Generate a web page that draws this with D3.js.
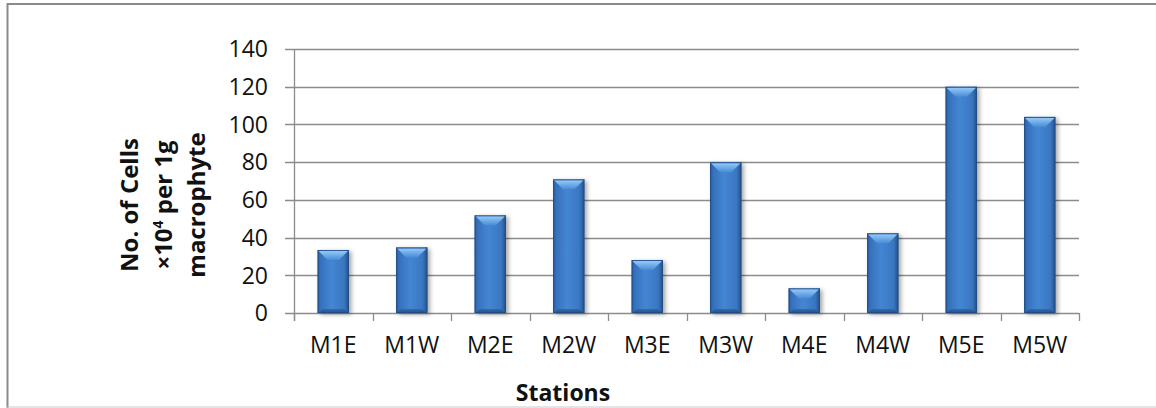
<!DOCTYPE html>
<html>
<head>
<meta charset="utf-8">
<script src="https://cdn.jsdelivr.net/npm/d3@7"></script>
<style>
  html, body { margin: 0; padding: 0; background: #fff; }
  svg { display: block; }
  text { font-family: "Open Sans", "Noto Sans", sans-serif; fill: #111; }
</style>
</head>
<body>
<svg id="chart" width="1156" height="408"></svg>
<script>
// Station names along the x axis
const stations = ["M1E", "M1W", "M2E", "M2W", "M3E", "M3W", "M4E", "M4W", "M5E", "M5W"];
// Cell counts (×10^4 per 1 g macrophyte)
const cellCounts = [33.4, 34.8, 51.8, 70.9, 28.1, 80, 13.1, 42.3, 120, 104];
// Value axis ticks
const yTicks = [0, 20, 40, 60, 80, 100, 120, 140];

const svg = d3.select("#chart");
const W = 1156, H = 408;
const plot = { left: 294, right: 1079, top: 49, bottom: 313 };

// Outer chart frame
svg.append("line").attr("x1", 7).attr("x2", W).attr("y1", 4).attr("y2", 4)
  .attr("stroke", "#8a8a8a").attr("stroke-width", 2);
svg.append("line").attr("x1", 7.5).attr("x2", 7.5).attr("y1", 3).attr("y2", H)
  .attr("stroke", "#8a8a8a").attr("stroke-width", 2);
svg.append("line").attr("x1", 7).attr("x2", W).attr("y1", 407).attr("y2", 407)
  .attr("stroke", "#c9c9c9").attr("stroke-width", 1);

const x = d3.scaleBand().domain(stations).range([plot.left, plot.right]).paddingInner(0.6).paddingOuter(0.3);
const xOuter = d3.scaleBand().domain(stations).range([plot.left, plot.right]);
const y = d3.scaleLinear().domain([0, 140]).range([plot.bottom, plot.top]);

// Defs: gradients and shadow
const defs = svg.append("defs");
const body = defs.append("linearGradient").attr("id", "barBody").attr("x1", "0").attr("x2", "1").attr("y1", "0").attr("y2", "0");
[["0%", "#285a98"], ["10%", "#3671bd"], ["45%", "#4486d3"], ["85%", "#3a76c0"], ["100%", "#234f88"]]
  .forEach(([o, c]) => body.append("stop").attr("offset", o).attr("stop-color", c));
const topBevel = defs.append("linearGradient").attr("id", "topBevel").attr("x1", "0").attr("x2", "0").attr("y1", "0").attr("y2", "1");
[["0%", "#93caf8"], ["100%", "#4a8bd6"]]
  .forEach(([o, c]) => topBevel.append("stop").attr("offset", o).attr("stop-color", c));
const botBevel = defs.append("linearGradient").attr("id", "botBevel").attr("x1", "0").attr("x2", "0").attr("y1", "0").attr("y2", "1");
[["0%", "#2f65a8"], ["100%", "#1f4677"]]
  .forEach(([o, c]) => botBevel.append("stop").attr("offset", o).attr("stop-color", c));
const shadow = defs.append("filter").attr("id", "shadow").attr("x", "-30%").attr("y", "-10%").attr("width", "170%").attr("height", "130%");
shadow.append("feDropShadow").attr("dx", 2.5).attr("dy", 1.5).attr("stdDeviation", 2)
  .attr("flood-color", "#000").attr("flood-opacity", 0.35);

// Gridlines with left tick extensions
const grid = svg.append("g");
grid.selectAll("line").data(yTicks).join("line")
  .attr("x1", plot.left - 9).attr("x2", plot.right)
  .attr("y1", d => Math.round(y(d)) + 0.5).attr("y2", d => Math.round(y(d)) + 0.5)
  .attr("stroke", "#8c8c8c").attr("stroke-width", 1.3);

// Y axis line
svg.append("line").attr("x1", plot.left + 0.5).attr("x2", plot.left + 0.5)
  .attr("y1", plot.top).attr("y2", plot.bottom + 8)
  .attr("stroke", "#8c8c8c").attr("stroke-width", 1.3);

// X tick marks at category boundaries
const bounds = stations.map(s => xOuter(s)).concat([plot.right]);
svg.append("g").selectAll("line").data(bounds).join("line")
  .attr("x1", d => Math.round(d) + 0.5).attr("x2", d => Math.round(d) + 0.5)
  .attr("y1", plot.bottom).attr("y2", plot.bottom + 8)
  .attr("stroke", "#8c8c8c").attr("stroke-width", 1.3);

// Y tick labels
svg.append("g").selectAll("text").data(yTicks).join("text")
  .attr("x", 268).attr("y", d => y(d)).attr("dy", "0.36em")
  .attr("text-anchor", "end").attr("font-size", 23).text(d => d);

// X tick labels
svg.append("g").selectAll("text").data(stations).join("text")
  .attr("x", d => xOuter(d) + xOuter.bandwidth() / 2).attr("y", 353)
  .attr("text-anchor", "middle").attr("font-size", 23).text(d => d);

// Bars with bevel effect
const bars = svg.append("g").selectAll("g").data(stations.map((s, i) => ({ s, v: cellCounts[i] }))).join("g");
bars.each(function(d) {
  const g = d3.select(this);
  const x0 = x(d.s), w = x.bandwidth(), x1 = x0 + w;
  const yt = y(d.v), yb = y(0);
  const b = Math.min(10, (yb - yt) / 2);
  const bb = Math.min(4, (yb - yt) / 4);
  g.append("rect").attr("x", x0).attr("y", yt).attr("width", w).attr("height", yb - yt)
    .attr("fill", "url(#barBody)").attr("filter", "url(#shadow)");
  g.append("polygon")
    .attr("points", [[x0 + 1, yt + 1], [x1 - 1, yt + 1], [x1 - b, yt + b], [x0 + b, yt + b]].map(p => p.join(",")).join(" "))
    .attr("fill", "url(#topBevel)");
  g.append("polygon")
    .attr("points", [[x0 + 1, yb], [x1 - 1, yb], [x1 - bb - 1, yb - bb], [x0 + bb + 1, yb - bb]].map(p => p.join(",")).join(" "))
    .attr("fill", "url(#botBevel)").attr("opacity", 0.8);
  g.append("rect").attr("x", x0 + 0.5).attr("y", yt + 0.5).attr("width", w - 1).attr("height", yb - yt - 1)
    .attr("fill", "none").attr("stroke", "#1f4a80").attr("stroke-width", 1).attr("opacity", 0.7);
});

// Axis titles
const yTitle = svg.append("text").attr("font-weight", "bold").attr("font-size", 24)
  .attr("text-anchor", "middle").attr("transform", "translate(0,205) rotate(-90)");
yTitle.append("tspan").attr("x", 0).attr("y", 138).text("No. of Cells");
const l2 = yTitle.append("tspan").attr("x", 0).attr("y", 172);
l2.append("tspan").text("×10");
l2.append("tspan").attr("font-size", 14).attr("dy", -9).text("4");
l2.append("tspan").attr("dy", 9).text(" per 1g");
yTitle.append("tspan").attr("x", 0).attr("y", 205).text("macrophyte");

svg.append("text").attr("x", 563).attr("y", 401).attr("text-anchor", "middle")
  .attr("font-weight", "bold").attr("font-size", 23).text("Stations");
</script>
</body>
</html>
